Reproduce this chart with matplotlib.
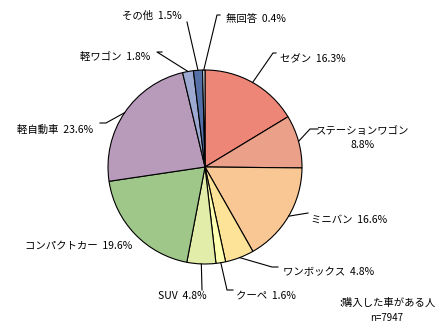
import numpy as np
import matplotlib.pyplot as plt

plt.rcParams['font.family'] = ['Noto Sans CJK JP', 'DejaVu Sans']

# 購入した車のタイプ (%)
labels = ['セダン', 'ステーションワゴン', 'ミニバン', 'ワンボックス', 'クーペ', 'SUV',
          'コンパクトカー', '軽自動車', '軽ワゴン', 'その他', '無回答']
values = [16.3, 8.8, 16.6, 4.8, 1.6, 4.8, 19.6, 23.6, 1.8, 1.5, 0.4]
colors = ['#EE8677', '#EBA08A', '#F8C794', '#FCE397', '#FFFFB0', '#E2EDAA',
          '#A0C78A', '#B89BBB', '#9DA9D1', '#5570A7', '#D9E6F2']

W, H = 447, 326
cx, cy, R = 205, 167, 97

fig = plt.figure(figsize=(W / 100, H / 100), dpi=100)
ax = fig.add_axes([0, 0, 1, 1])

wedges, _ = ax.pie(values, colors=colors, startangle=90, counterclock=False,
                   center=(cx, H - cy), radius=R,
                   wedgeprops=dict(edgecolor='black', linewidth=0.8))
# pie() resets the view, so fix it afterwards (1 unit = 1 px)
ax.set_xlim(0, W)
ax.set_ylim(0, H)
ax.set_aspect('equal')
ax.axis('off')

# text position (px from top-left), alignment, leader points before the wedge
layout = {
    'セダン':        ((280, 59, 'left'), [(276, 53), (273, 53)]),
    'ステーションワゴン': ((363, 138, 'center'), [(318, 129), (310, 129)]),
    'ミニバン':      ((311, 220, 'left'), [(308, 213)]),
    'ワンボックス':  ((283, 272, 'left'), [(278, 267), (272, 267)]),
    'クーペ':        ((236, 296, 'left'), [(233, 290), (227, 290)]),
    'SUV':           ((158, 296, 'left'), [(202, 290)]),
    'コンパクトカー': ((25, 246, 'left'), []),
    '軽自動車':      ((17, 130, 'left'), [(100, 123), (106, 123)]),
    '軽ワゴン':      ((80, 57, 'left'), [(162, 52), (157, 52)]),
    'その他':        ((122, 16, 'left'), [(187, 22)]),
    '無回答':        ((226, 19, 'left'), [(220, 15), (217, 15)]),
}

for w, name, v in zip(wedges, labels, values):
    (tx, ty, ha), pts = layout[name]
    if name == 'ステーションワゴン':
        txt = f'{name}\n{v}%'
    else:
        txt = f'{name}  {v}%'
    ax.text(tx, H - ty, txt, ha=ha, va='center', fontsize=7.5,
            linespacing=1.4)
    if pts:
        mid = np.deg2rad((w.theta1 + w.theta2) / 2)
        ex = cx + R * np.cos(mid)
        ey = (H - cy) + R * np.sin(mid)
        xs = [p[0] for p in pts] + [ex]
        ys = [H - p[1] for p in pts] + [ey]
        ax.plot(xs, ys, color='black', linewidth=0.8)

ax.text(387, H - 303, ':購入した車がある人', ha='center', va='center', fontsize=7.5)
ax.text(387, H - 318, 'n=7947', ha='center', va='center', fontsize=7)

fig.savefig('out.png', dpi=100, facecolor='white')
